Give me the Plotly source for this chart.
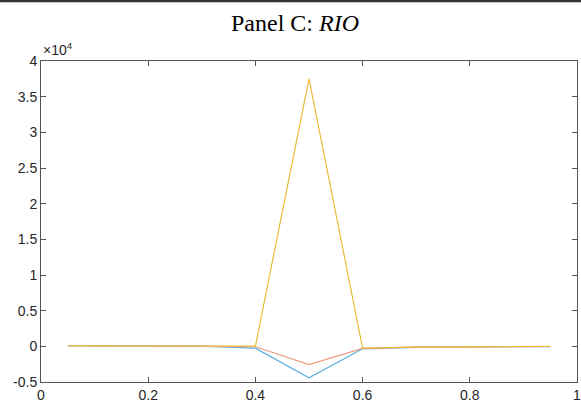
import plotly.graph_objects as go

x_vals = [0.05, 0.1, 0.2, 0.3, 0.4, 0.5, 0.6, 0.7, 0.8, 0.9, 0.95]
series_blue = [80, 70, 50, 20, -250, -4400, -350, -150, -80, -40, -30]
series_orange = [80, 70, 50, 30, -60, -2550, -300, -120, -60, -30, -20]
series_yellow = [80, 75, 55, 35, 40, 37500, -250, -100, -50, -20, -10]

y_tickvals = [-5000, 0, 5000, 10000, 15000, 20000, 25000, 30000, 35000, 40000]
y_ticktext = ["-0.5", "0", "0.5", "1", "1.5", "2", "2.5", "3", "3.5", "4"]
x_tickvals = [0, 0.2, 0.4, 0.6, 0.8, 1]
x_ticktext = ["0", "0.2", "0.4", "0.6", "0.8", ""]
x_last_label = "1"

W, H = 581, 405
ml, mr, mt, mb = 41, 4, 61, 23
pw, ph = W - ml - mr, H - mt - mb

fig = go.Figure()
for ys, col in [(series_blue, "#5aaee0"), (series_orange, "#ec9c7e"), (series_yellow, "#f0b93a")]:
    fig.add_trace(go.Scatter(x=x_vals, y=ys, mode="lines",
                             line=dict(color=col, width=1.2), showlegend=False))

tick_font = dict(family="Liberation Sans, Arial", size=14, color="#262626")
axis_common = dict(showgrid=False, zeroline=False, showline=True, linecolor="#555555",
                   linewidth=1, mirror="ticks", ticks="inside", ticklen=5,
                   tickcolor="#555555", tickfont=tick_font)

fig.update_layout(
    width=W, height=H,
    margin=dict(l=ml, r=mr, t=mt, b=mb),
    paper_bgcolor="white", plot_bgcolor="white",
    xaxis=dict(range=[0, 1], tickvals=x_tickvals, ticktext=x_ticktext, automargin=False, **axis_common),
    yaxis=dict(range=[-5000, 40000], tickvals=y_tickvals, ticktext=y_ticktext, automargin=False, **axis_common),
)

fig.add_annotation(text="Panel C: <i>RIO</i>", xref="paper", yref="paper",
                   x=(295 - ml) / pw, y=1 + (mt - 23) / ph, xanchor="center", yanchor="middle",
                   showarrow=False,
                   font=dict(family="Liberation Serif, Times New Roman, serif", size=24, color="black"))
fig.add_annotation(text="×10<sup>4</sup>", xref="paper", yref="paper",
                   x=0, y=1 + 1 / ph, xanchor="left", yanchor="bottom", showarrow=False,
                   font=dict(family="Liberation Sans, Arial", size=14, color="#262626"))
fig.add_annotation(text=x_last_label, xref="x", yref="paper",
                   x=x_tickvals[-1], y=-3 / ph, xanchor="center", yanchor="top", showarrow=False,
                   font=tick_font)
fig.add_shape(type="line", xref="paper", yref="paper",
              x0=-ml / pw, x1=1 + mr / pw, y0=1 + (mt - 1) / ph, y1=1 + (mt - 1) / ph,
              line=dict(color="#333333", width=2.5))

fig.write_html("out.html", config={"displayModeBar": False},
               post_script="document.body.style.margin='0';document.body.style.padding='0';")
